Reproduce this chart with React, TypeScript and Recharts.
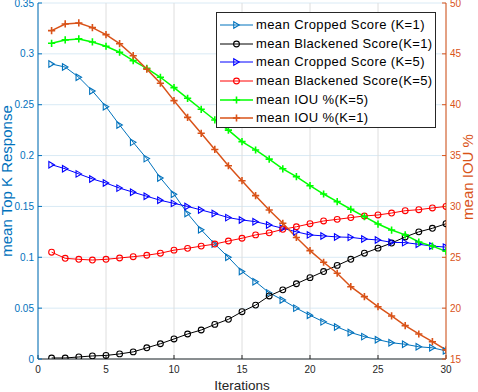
import React from 'react';
import { ComposedChart, Line, XAxis, YAxis, CartesianGrid, Legend } from 'recharts';

const iterations = [1, 2, 3, 4, 5, 6, 7, 8, 9, 10, 11, 12, 13, 14, 15, 16, 17, 18, 19, 20, 21, 22, 23, 24, 25, 26, 27, 28, 29, 30];

const croppedK1 = [0.290, 0.287, 0.277, 0.2635, 0.248, 0.230, 0.213, 0.197, 0.178, 0.162, 0.143, 0.127, 0.113, 0.100, 0.086, 0.076, 0.065, 0.058, 0.050, 0.043, 0.0365, 0.0315, 0.026, 0.022, 0.019, 0.016, 0.0145, 0.012, 0.011, 0.008];
const blackenedK1 = [0.001, 0.001, 0.002, 0.003, 0.0035, 0.005, 0.007, 0.011, 0.015, 0.0197, 0.0246, 0.0285, 0.034, 0.039, 0.0465, 0.053, 0.062, 0.068, 0.074, 0.080, 0.086, 0.092, 0.098, 0.104, 0.109, 0.114, 0.120, 0.125, 0.1285, 0.133];
const croppedK5 = [0.191, 0.187, 0.182, 0.177, 0.173, 0.168, 0.164, 0.160, 0.156, 0.153, 0.150, 0.1465, 0.143, 0.139, 0.1367, 0.135, 0.1318, 0.1285, 0.125, 0.122, 0.121, 0.120, 0.1196, 0.118, 0.117, 0.1147, 0.1144, 0.1128, 0.111, 0.110];
const blackenedK5 = [0.105, 0.099, 0.098, 0.0973, 0.098, 0.0993, 0.1006, 0.102, 0.104, 0.107, 0.1088, 0.111, 0.113, 0.116, 0.1187, 0.122, 0.124, 0.1275, 0.130, 0.133, 0.1357, 0.1373, 0.139, 0.1406, 0.1416, 0.1435, 0.1458, 0.1468, 0.1485, 0.150];
const iouK5 = [46.04, 46.37, 46.47, 46.17, 45.75, 45.16, 44.33, 43.58, 42.7, 41.68, 40.63, 39.55, 38.5, 37.5, 36.37, 35.55, 34.65, 33.7, 32.93, 32.04, 31.22, 30.47, 29.72, 29.0, 28.27, 27.68, 27.2, 26.5, 26.1, 25.6];
const iouK1 = [47.28, 47.94, 48.04, 47.58, 46.89, 46.0, 44.82, 43.5, 42.11, 40.4, 38.76, 37.19, 35.6, 34.0, 32.53, 31.06, 29.65, 28.34, 26.95, 25.65, 24.51, 23.43, 22.11, 21.13, 20.14, 19.23, 18.28, 17.46, 16.7, 15.9];

const seriesNames = [
  'mean Cropped Score (K=1)',
  'mean Blackened Score(K=1)',
  'mean Cropped Score (K=5)',
  'mean Blackened Score(K=5)',
  'mean IOU %(K=5)',
  'mean IOU %(K=1)',
];

const xTicks = [0, 5, 10, 15, 20, 25, 30];
const leftTicks = [0, 0.05, 0.1, 0.15, 0.2, 0.25, 0.3, 0.35];
const rightTicks = [15, 20, 25, 30, 35, 40, 45, 50];

const xLabel = 'Iterations';
const leftLabel = 'mean Top K Response';
const rightLabel = 'mean IOU %';

const FONT = '"Liberation Sans", Arial, Helvetica, sans-serif';
const LEFT_COLOR = '#0072BD';
const RIGHT_COLOR = '#D95319';
const AX_COLOR = '#262626';

const data = iterations.map((it, i) => ({
  it,
  c1: croppedK1[i],
  b1: blackenedK1[i],
  c5: croppedK5[i],
  b5: blackenedK5[i],
  iou5: iouK5[i],
  iou1: iouK1[i],
}));

type Kind = 'tri' | 'circle' | 'plus';

const series: { key: string; name: string; color: string; kind: Kind; axis: string; width: number }[] = [
  { key: 'c1', name: seriesNames[0], color: '#0072BD', kind: 'tri', axis: 'left', width: 1 },
  { key: 'b1', name: seriesNames[1], color: '#000000', kind: 'circle', axis: 'left', width: 1 },
  { key: 'c5', name: seriesNames[2], color: '#0000FF', kind: 'tri', axis: 'left', width: 1 },
  { key: 'b5', name: seriesNames[3], color: '#FF0000', kind: 'circle', axis: 'left', width: 1 },
  { key: 'iou5', name: seriesNames[4], color: '#00FF00', kind: 'plus', axis: 'right', width: 1.5 },
  { key: 'iou1', name: seriesNames[5], color: '#D95319', kind: 'plus', axis: 'right', width: 1.5 },
];

function Marker({ kind, cx, cy, color }: { kind: Kind; cx: number; cy: number; color: string }) {
  if (kind === 'tri') {
    const w = 5.5;
    const h = 6.5;
    return (
      <path
        d={`M${cx - w / 2},${cy - h / 2} L${cx + w / 2},${cy} L${cx - w / 2},${cy + h / 2} Z`}
        fill="none"
        stroke={color}
        strokeWidth={1.1}
      />
    );
  }
  if (kind === 'circle') {
    return <circle cx={cx} cy={cy} r={2.9} fill="none" stroke={color} strokeWidth={1.1} />;
  }
  const s = 3.6;
  return (
    <path d={`M${cx - s},${cy} L${cx + s},${cy} M${cx},${cy - s} L${cx},${cy + s}`} stroke={color} strokeWidth={1.6} fill="none" />
  );
}

const makeDot = (kind: Kind, color: string) => (props: any) => {
  const { cx, cy, index } = props;
  if (cx == null || cy == null) return <g key={`d-${index}`} />;
  return <Marker key={`d-${index}`} kind={kind} cx={cx} cy={cy} color={color} />;
};

const renderLegend = () => (
  <div
    style={{
      width: 220,
      height: 116,
      boxSizing: 'border-box',
      border: '1px solid #262626',
      background: '#fff',
      paddingTop: 3,
      fontFamily: FONT,
      fontSize: 13,
      letterSpacing: 0.4,
      color: '#000',
    }}
  >
    {series.map((s) => (
      <div key={s.key} style={{ height: 18.6, display: 'flex', alignItems: 'center', whiteSpace: 'nowrap' }}>
        <svg width={38} height={18} style={{ display: 'block', flex: 'none' }}>
          <line x1={3} y1={9} x2={36} y2={9} stroke={s.color} strokeWidth={s.width} />
          <Marker kind={s.kind} cx={19.5} cy={9} color={s.color} />
        </svg>
        <span style={{ marginLeft: 1, lineHeight: '18px' }}>{s.name}</span>
      </div>
    ))}
  </div>
);

const fmtLeft = (v: number) => (v === 0 ? '0' : String(Number(v.toFixed(2))));

export default function App() {
  return (
    <div style={{ position: 'absolute', left: 0, top: 0, width: 478, height: 392, background: '#fff' }}>
      <ComposedChart
        width={478}
        height={392}
        data={data}
        margin={{ top: 3, right: 0, bottom: 0, left: 0 }}
        style={{ fontFamily: FONT }}
      >
        <CartesianGrid yAxisId="left" vertical={false} horizontal stroke="#d9eaf5" strokeWidth={1} />
        <CartesianGrid yAxisId="left" vertical horizontal={false} stroke="#dedede" strokeWidth={1} />
        <XAxis
          dataKey="it"
          type="number"
          domain={[0, 30]}
          ticks={xTicks}
          height={33}
          tickSize={-4}
          tickMargin={11}
          axisLine={{ stroke: AX_COLOR, strokeWidth: 1 }}
          tickLine={{ stroke: AX_COLOR }}
          tick={{ fill: AX_COLOR, fontSize: 10, fontFamily: FONT }}
          interval={0}
          allowDataOverflow
          label={{
            content: () => (
              <text x={242} y={390} textAnchor="middle" fill={AX_COLOR} fontSize={13.5} fontFamily={FONT}>
                {xLabel}
              </text>
            ),
          }}
        />
        <XAxis
          xAxisId="top"
          orientation="top"
          dataKey="it"
          type="number"
          domain={[0, 30]}
          ticks={xTicks}
          height={0}
          tickSize={-4}
          tick={false}
          axisLine={{ stroke: AX_COLOR, strokeWidth: 1 }}
          tickLine={{ stroke: AX_COLOR }}
          allowDataOverflow
        />
        <YAxis
          yAxisId="left"
          orientation="left"
          domain={[0, 0.35]}
          ticks={leftTicks}
          width={38}
          tickSize={-4}
          tickMargin={8}
          tickFormatter={fmtLeft}
          axisLine={{ stroke: LEFT_COLOR, strokeWidth: 1 }}
          tickLine={{ stroke: LEFT_COLOR }}
          tick={{ fill: LEFT_COLOR, fontSize: 10, fontFamily: FONT }}
          interval={0}
          allowDataOverflow
          label={{
            content: () => (
              <text
                x={12}
                y={181}
                transform="rotate(-90 12 181)"
                textAnchor="middle"
                fill={LEFT_COLOR}
                fontSize={15}
                fontFamily={FONT}
              >
                {leftLabel}
              </text>
            ),
          }}
        />
        <YAxis
          yAxisId="right"
          orientation="right"
          domain={[15, 50]}
          ticks={rightTicks}
          width={32}
          tickSize={-4}
          tickMargin={8}
          axisLine={{ stroke: RIGHT_COLOR, strokeWidth: 1 }}
          tickLine={{ stroke: RIGHT_COLOR }}
          tick={{ fill: RIGHT_COLOR, fontSize: 10, fontFamily: FONT }}
          interval={0}
          allowDataOverflow
          label={{
            content: () => (
              <text
                x={473}
                y={177}
                transform="rotate(-90 473 177)"
                textAnchor="middle"
                fill={RIGHT_COLOR}
                fontSize={15}
                fontFamily={FONT}
              >
                {rightLabel}
              </text>
            ),
          }}
        />
        {series.map((s) => (
          <Line
            key={s.key}
            yAxisId={s.axis}
            dataKey={s.key}
            name={s.name}
            type="linear"
            stroke={s.color}
            strokeWidth={s.width}
            dot={makeDot(s.kind, s.color)}
            activeDot={false}
            isAnimationActive={false}
            legendType="line"
          />
        ))}
        <Legend
          layout="horizontal"
          verticalAlign="middle"
          align="center"
          content={renderLegend}
          wrapperStyle={{ left: 216, top: 12, width: 220, height: 116 }}
        />
      </ComposedChart>
    </div>
  );
}
